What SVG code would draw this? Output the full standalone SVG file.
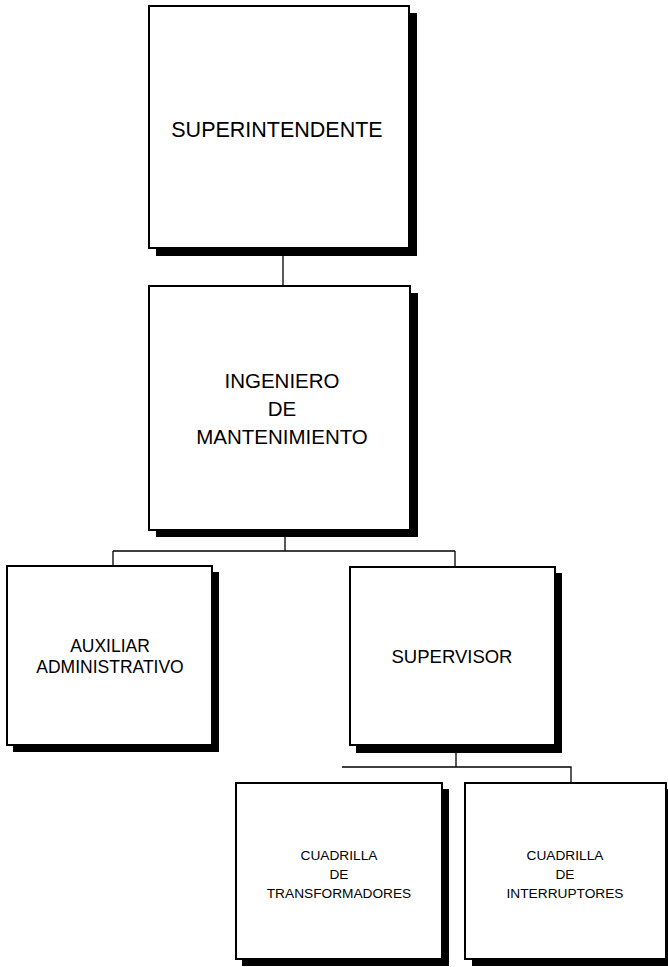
<svg xmlns="http://www.w3.org/2000/svg" width="668" height="967" viewBox="0 0 668 967">
<style>
.sh{fill:#000}
.bx{fill:#fff;stroke:#000;stroke-width:2}
.t{font-family:"Liberation Sans",Arial,sans-serif;fill:#000;text-anchor:middle}
.cn{stroke:#000;stroke-width:1.3;fill:none}
</style>
<rect width="668" height="967" fill="#fff"/>
<g id="connectors">
<path class="cn" d="M283 256V286"/>
<path class="cn" d="M285 537V551M113 551H455M113 551V566M455 551V567"/>
<path class="cn" d="M456 753V767M342 767H571V783"/>
</g>
<g id="superintendente">
<rect class="sh" x="156" y="13" width="261" height="243"/>
<rect class="bx" x="149" y="6" width="260" height="242"/>
<text class="t" x="277" y="137" font-size="21.5">SUPERINTENDENTE</text>
</g>
<g id="ingeniero">
<rect class="sh" x="156" y="293" width="262" height="244"/>
<rect class="bx" x="149" y="286" width="261" height="244"/>
<text class="t" x="282" y="388" font-size="20.5">INGENIERO</text>
<text class="t" x="282" y="416" font-size="20.5">DE</text>
<text class="t" x="282" y="444" font-size="20.5">MANTENIMIENTO</text>
</g>
<g id="auxiliar">
<rect class="sh" x="13" y="572" width="206" height="180"/>
<rect class="bx" x="7" y="566" width="205" height="179"/>
<text class="t" x="110" y="652" font-size="17.5">AUXILIAR</text>
<text class="t" x="110" y="673" font-size="17.5">ADMINISTRATIVO</text>
</g>
<g id="supervisor">
<rect class="sh" x="356" y="573" width="206" height="180"/>
<rect class="bx" x="350" y="567" width="205" height="178"/>
<text class="t" x="452" y="663" font-size="18.5">SUPERVISOR</text>
</g>
<g id="transformadores">
<rect class="sh" x="242" y="789" width="207" height="177"/>
<rect class="bx" x="236" y="783" width="206" height="176"/>
<text class="t" x="339" y="860" font-size="13.7">CUADRILLA</text>
<text class="t" x="339" y="879" font-size="13.7">DE</text>
<text class="t" x="339" y="898" font-size="13.7">TRANSFORMADORES</text>
</g>
<g id="interruptores">
<rect class="sh" x="472" y="789" width="210" height="177"/>
<rect class="bx" x="465" y="783" width="201" height="176"/>
<text class="t" x="565" y="860" font-size="13.7">CUADRILLA</text>
<text class="t" x="565" y="879" font-size="13.7">DE</text>
<text class="t" x="565" y="898" font-size="13.7">INTERRUPTORES</text>
</g>
</svg>
